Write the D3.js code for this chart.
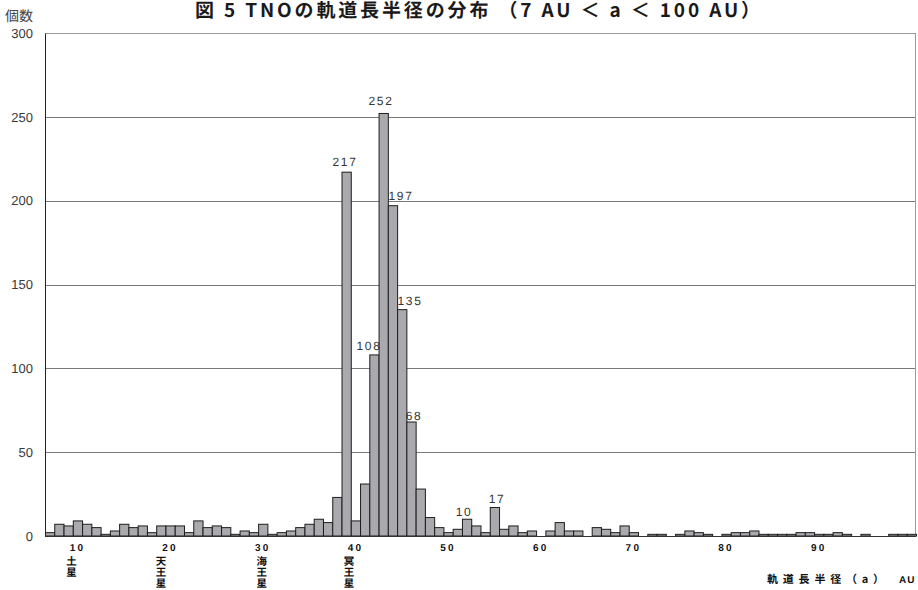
<!DOCTYPE html>
<html>
<head>
<meta charset="utf-8">
<script src="https://cdn.jsdelivr.net/npm/d3@7"></script>
<style>
  html, body { margin: 0; padding: 0; background: #fff; }
  svg { display: block; }
  text { text-rendering: geometricPrecision; }
</style>
</head>
<body>
<svg id="chart" width="918" height="590"></svg>
<script>
// Semi-major axis bins (AU, 1 AU wide) and number of TNOs in each bin
const semiMajorAxis = [
   7,  8,  9, 10, 11, 12, 13, 14, 15, 16, 17, 18, 19, 20, 21, 22, 23, 24, 25, 26,
  27, 28, 29, 30, 31, 32, 33, 34, 35, 36, 37, 38, 39, 40, 41, 42, 43, 44, 45, 46,
  47, 48, 49, 50, 51, 52, 53, 54, 55, 56, 57, 58, 59, 60, 61, 62, 63, 64, 65, 66,
  67, 68, 69, 70, 71, 72, 73, 74, 75, 76, 77, 78, 79, 80, 81, 82, 83, 84, 85, 86,
  87, 88, 89, 90, 91, 92, 93, 94, 95, 96, 97, 98, 99, 100
];
const counts = [
   2,  7,  6,  9,  7,  5,  1,  3,  7,  5,  6,  2,  6,  6,  6,  2,  9,  5,  6,  5,
   1,  3,  2,  7,  1,  2,  3,  5,  7, 10,  8, 23, 217, 9, 31, 108, 252, 197, 135, 68,
  28, 11,  5,  2,  4, 10,  6,  2, 17,  4,  6,  2,  3,  0,  3,  8,  3,  3,  0,  5,
   4,  2,  6,  2,  0,  1,  1,  0,  1,  3,  2,  1,  0,  1,  2,  2,  3,  1,  1,  1,
   1,  2,  2,  1,  1,  2,  1,  0,  1,  0,  0,  1,  1,  1
];
// Bins whose counts are written above the bar
const labelledBins = [39, 42, 43, 44, 45, 46, 52, 55];

const yTicks = [0, 50, 100, 150, 200, 250, 300];
const xTickLabels = [10, 20, 30, 40, 50, 60, 70, 80, 90];

// Planets marked under the axis, at their own semi-major axis
const planetNames = ["土星", "天王星", "海王星", "冥王星"];
const planetAxis = [9.54, 19.19, 30.07, 39.48];

const titleText = "図 5 TNOの軌道長半径の分布 （7 AU ＜ a ＜ 100 AU）";

const svg = d3.select("#chart");
const plotLeft = 45, plotRight = 916, plotTop = 33, plotBottom = 536;

const x = d3.scaleBand().domain(semiMajorAxis).range([plotLeft, plotRight]).padding(0);
const xLin = d3.scaleLinear().domain([7, 101]).range([plotLeft, plotRight]);
const y = d3.scaleLinear().domain([0, 300]).range([plotBottom, plotTop]);

// Horizontal grid lines
svg.append("g")
  .selectAll("line")
  .data(yTicks.filter(t => t > 0))
  .join("line")
  .attr("x1", plotLeft).attr("x2", plotRight)
  .attr("y1", d => Math.round(y(d)) + 0.5).attr("y2", d => Math.round(y(d)) + 0.5)
  .attr("stroke", d => d === 300 ? "#9a9a9a" : "#7a7a7a")
  .attr("stroke-width", 1);

// Right frame edge
svg.append("line")
  .attr("x1", plotRight - 0.5).attr("x2", plotRight - 0.5)
  .attr("y1", Math.round(y(300)) + 0.5).attr("y2", plotBottom)
  .attr("stroke", "#9a9a9a");

// Bars
const rows = semiMajorAxis.map((a, i) => ({ a, n: counts[i] }));
svg.append("g")
  .selectAll("rect")
  .data(rows.filter(d => d.n > 0))
  .join("rect")
  .attr("x", d => x(d.a) + 0.5)
  .attr("width", x.bandwidth())
  .attr("y", d => y(d.n))
  .attr("height", d => y(0) - y(d.n))
  .attr("fill", "#a9a9ae")
  .attr("stroke", "#1e1e1e")
  .attr("stroke-width", 1);

// Value labels above the tallest bars (nudged so neighbours do not collide)
const nudge = { 39: [-1, -6], 42: [-5, -5], 43: [-2, -8], 44: [9, -6], 45: [8, -5], 46: [3, -2], 52: [-3, -3], 55: [3, -4] };
svg.append("g")
  .style("opacity", 0.99)
  .selectAll("text")
  .data(rows.filter(d => labelledBins.includes(d.a)))
  .join("text")
  .attr("x", d => Math.round(x(d.a) + x.bandwidth() / 2 + nudge[d.a][0]))
  .attr("y", d => Math.round(y(d.n) + nudge[d.a][1]))
  .attr("text-anchor", "middle")
  .attr("font-family", "'Liberation Sans Narrow', 'Liberation Sans', sans-serif")
  .attr("font-size", 12)
  .attr("letter-spacing", 1.6)
  .attr("fill", "#333")
  .text(d => d.n);

// Y axis labels
const yAxis = d3.axisLeft(y).tickValues(yTicks).tickSize(0).tickPadding(12);
const gy = svg.append("g").attr("transform", `translate(${plotLeft},0)`).call(yAxis);
gy.select(".domain").remove();
gy.selectAll("text")
  .attr("font-family", "'Liberation Sans', Arial, sans-serif")
  .attr("font-size", 13)
  .attr("fill", "#3a3a3a");

// Axis lines
svg.append("line")
  .attr("x1", plotLeft + 0.5).attr("x2", plotLeft + 0.5)
  .attr("y1", Math.round(y(300)) + 0.5).attr("y2", plotBottom + 1)
  .attr("stroke", "#222");
svg.append("line")
  .attr("x1", plotLeft).attr("x2", plotRight)
  .attr("y1", plotBottom + 0.5).attr("y2", plotBottom + 0.5)
  .attr("stroke", "#333");

// X axis labels
const xAxis = d3.axisBottom(x).tickValues(xTickLabels).tickSize(0).tickPadding(8);
const gx = svg.append("g").attr("transform", `translate(0,${plotBottom})`).call(xAxis);
gx.select(".domain").remove();
gx.selectAll("text")
  .attr("font-family", "'Liberation Sans', Arial, sans-serif")
  .attr("font-weight", "bold")
  .attr("font-size", 10)
  .attr("letter-spacing", 2.2)
  .attr("fill", "#111");

// Planet names, set in vertical writing mode
svg.append("g")
  .attr("font-family", "'Noto Sans CJK JP', sans-serif")
  .attr("font-weight", "bold")
  .attr("font-size", 10.5)
  .attr("fill", "#111")
  .selectAll("text")
  .data(planetNames.map((name, i) => ({ name, a: planetAxis[i] })))
  .join("text")
  .attr("x", d => xLin(d.a) + 3)
  .attr("y", 556)
  .style("writing-mode", "vertical-rl")
  .style("text-orientation", "upright")
  .attr("letter-spacing", 0.6)
  .text(d => d.name);

// Axis titles
svg.append("text")
  .attr("x", 5).attr("y", 21)
  .attr("font-family", "'Noto Sans CJK JP', sans-serif")
  .attr("font-size", 14)
  .attr("fill", "#444")
  .text("個数");

svg.append("text")
  .attr("x", 767).attr("y", 583)
  .attr("font-family", "'Noto Sans CJK JP', sans-serif")
  .attr("font-weight", "bold")
  .attr("font-size", 11)
  .attr("letter-spacing", 4.8)
  .attr("fill", "#111")
  .text("軌道長半径（a）");

svg.append("text")
  .attr("x", 899).attr("y", 583)
  .attr("font-family", "'Liberation Sans', Arial, sans-serif")
  .attr("font-weight", "bold")
  .attr("font-size", 10)
  .attr("letter-spacing", 1)
  .attr("fill", "#111")
  .text("AU");

// Chart title
svg.append("text")
  .attr("x", 195).attr("y", 16.5)
  .attr("textLength", 565)
  .attr("lengthAdjust", "spacing")
  .attr("font-family", "'Noto Sans CJK JP', sans-serif")
  .attr("font-weight", "bold")
  .attr("font-size", 19)
  .attr("fill", "#1a1a1a")
  .text(titleText);
</script>
</body>
</html>
